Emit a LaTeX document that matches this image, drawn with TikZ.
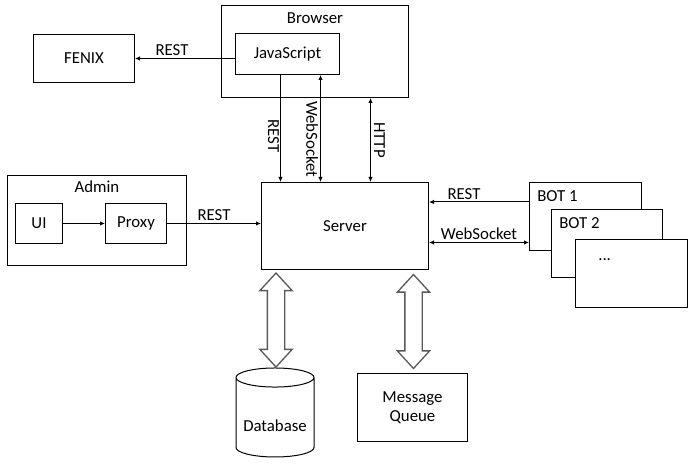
\documentclass[tikz,border=0pt]{standalone}
\usepackage{fontspec}
\setmainfont{Carlito}
\usetikzlibrary{arrows.meta,shapes.geometric,shapes.arrows}
\newdimen\px \px=0.75pt

\begin{document}
\begin{tikzpicture}[x=0.75pt,y=-0.75pt,
font=\fontsize{12.6}{14.5}\selectfont,
box/.style={draw,line width=1\px,anchor=north west,inner sep=0pt},
conn/.style={line width=1\px,-{Latex[length=3.75pt,width=3.4pt]}},
biconn/.style={line width=1\px,{Latex[length=3.75pt,width=3.4pt]}-{Latex[length=3.75pt,width=3.4pt]}},
lbl/.style={inner sep=2\px},
hollow/.style={draw=black!65,fill=white,line width=1.3\px,double arrow,rotate=90,
  inner sep=8\px,double arrow head extend=7.5\px,double arrow tip angle=85,minimum height=94\px}]
\useasboundingbox (0,0) rectangle (694,470);

\node[box,minimum width=187\px,minimum height=92\px] (browser) at (221,5) {};
\node (browsertxt) at ([yshift=-13\px]browser.north) {Browser};
\node[box,minimum width=104\px,minimum height=41\px] (js) at (235,33) {JavaScript};
\node[box,minimum width=101\px,minimum height=48\px] (fenix) at (33,34) {FENIX};
\node[box,minimum width=167\px,minimum height=87\px] (server) at (261,182) {Server};

\node[box,minimum width=179\px,minimum height=90\px] (admin) at (7,175) {};
\node (admintxt) at ([yshift=-12\px]admin.north) {Admin};
\node[box,minimum width=47\px,minimum height=40\px] (ui) at (15,203) {UI};
\node[box,minimum width=61\px,minimum height=40\px] (proxy) at (105,203) {Proxy};

% bots
\node[box,fill=white,minimum width=112\px,minimum height=68\px] (bot1) at (529,182) {};
\node[anchor=west,inner sep=0pt] (bot1txt) at ([shift={(8,14)}]bot1.north west) {BOT 1};
\node[box,fill=white,minimum width=111\px,minimum height=68\px] (bot2) at (551,209) {};
\node[anchor=west,inner sep=0pt] (bot2txt) at ([shift={(8,14)}]bot2.north west) {BOT 2};
\node[box,fill=white,minimum width=112\px,minimum height=68\px] (bot3) at (575,239) {};
\node[anchor=base west,inner sep=0pt] (bot3txt) at ([shift={(23,22)}]bot3.north west) {...};

\node[box,minimum width=110\px,minimum height=68\px,align=center] (mq) at (357,373) {Message\\Queue};
\node[cylinder,shape border rotate=90,draw,line width=1\px,aspect=0.3,
  minimum height=89\px,minimum width=78\px,inner sep=0pt] (db) at (275,417.5) {\phantom{Database}};
\node (dbtxt) at ([yshift=-8\px]db.center) {Database};

\draw[conn] (js.west |- fenix.east) -- node[lbl,above,pos=0.63] (restfenix) {REST} (fenix.east);
\draw[conn] (ui) -- (proxy);
\draw[conn] (proxy) -- node[lbl,above] (restadmin) {REST} (proxy.east -| server.west);

\draw[conn] ([xshift=-7\px]js.south) -- node[rotate=-90,anchor=north,inner sep=1\px,pos=0.57] (restjs) {REST}
  ([xshift=-7\px]js.south |- server.north);
\draw[biconn] ([xshift=33\px]js.south) -- node[rotate=-90,anchor=north,inner sep=2\px,pos=0.6] (wsjs) {WebSocket}
  ([xshift=33\px]js.south |- server.north);
\draw[biconn] ([xshift=55.5\px]browser.south) -- node[rotate=-90,anchor=south,inner sep=3\px] (http) {HTTP}
  ([xshift=55.5\px]browser.south |- server.north);

\draw[conn] ([yshift=24\px]server.east -| bot1.west) -- node[lbl,above,pos=0.65] (restbot) {REST}
  ([yshift=24\px]server.east);
\draw[biconn] ([yshift=-16.5\px]server.east) -- node[lbl,above] (wsbot) {WebSocket}
  ([yshift=-16.5\px]server.east -| bot1.west);

\node[hollow] (dbarrow) at (276,320) {};
\node[hollow] (mqarrow) at (413.5,321.5) {};
\end{tikzpicture}
\end{document}
